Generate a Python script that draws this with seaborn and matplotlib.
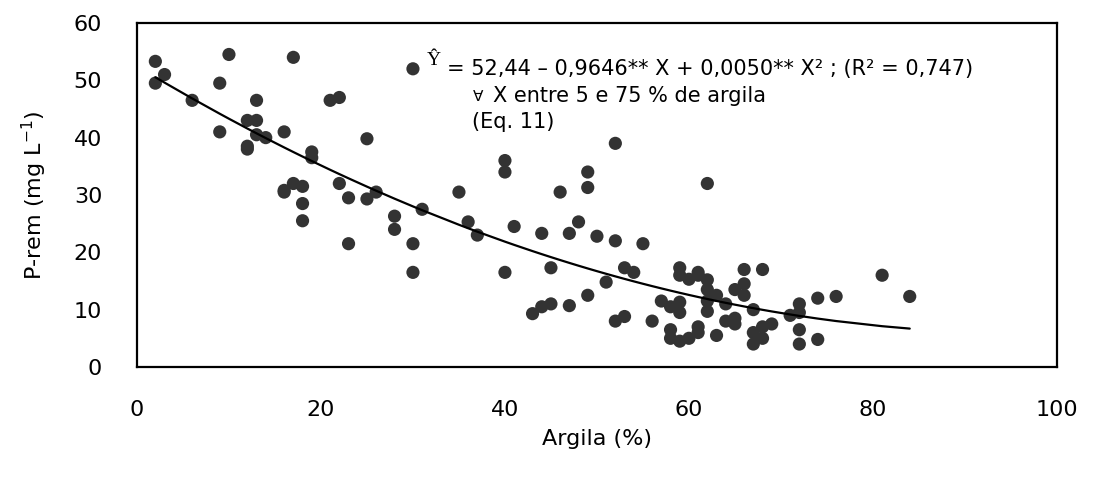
import matplotlib
matplotlib.use('Agg')
import matplotlib.pyplot as plt
import seaborn as sns
import pandas as pd
import numpy as np

sns.set_style('white')
plt.rcParams['font.family'] = ['DejaVu Sans']
plt.rcParams['text.color'] = 'black'
plt.rcParams['axes.labelcolor'] = 'black'
plt.rcParams['xtick.color'] = 'black'
plt.rcParams['ytick.color'] = 'black'

# Argila (%) and P-rem (mg/L)
argila = [2, 2, 3, 6, 9, 9, 10, 12, 12, 12, 13, 13, 13, 14, 16, 16, 16, 17, 17, 18,
          18, 18, 19, 19, 21, 22, 22, 23, 23, 25, 25, 26, 28, 28, 30, 30, 30, 31, 35, 36,
          37, 40, 40, 40, 41, 43, 44, 44, 45, 45, 46, 47, 47, 48, 49, 49, 49, 50, 51, 52,
          52, 52, 53, 53, 54, 55, 56, 57, 58, 58, 58, 59, 59, 59, 59, 59, 60, 60, 61, 61,
          61, 61, 62, 62, 62, 62, 62, 63, 63, 64, 64, 65, 65, 65, 66, 66, 66, 67, 67, 67,
          68, 68, 68, 69, 71, 72, 72, 72, 72, 74, 74, 76, 81, 84]
prem = [53.3, 49.5, 51.0, 46.5, 49.5, 41.0, 54.5, 43.0, 38.5, 38.0, 46.5, 43.0, 40.5, 40.0, 41.0, 30.8, 30.5, 54.0, 32.0, 31.5,
        28.5, 25.5, 37.5, 36.5, 46.5, 47.0, 32.0, 29.5, 21.5, 39.8, 29.3, 30.5, 26.3, 24.0, 52.0, 21.5, 16.5, 27.5, 30.5, 25.3,
        23.0, 36.0, 34.0, 16.5, 24.5, 9.3, 23.3, 10.5, 11.0, 17.3, 30.5, 23.3, 10.7, 25.3, 34.0, 31.3, 12.5, 22.8, 14.8, 39.0,
        22.0, 8.0, 17.3, 8.8, 16.5, 21.5, 8.0, 11.5, 10.5, 6.5, 5.0, 17.3, 16.0, 11.3, 9.5, 4.5, 15.3, 5.0, 16.5, 16.0,
        7.0, 6.0, 32.0, 15.2, 13.5, 11.5, 9.7, 12.5, 5.5, 11.0, 8.0, 13.5, 8.5, 7.5, 14.5, 12.5, 17.0, 10.0, 6.0, 4.0,
        17.0, 7.0, 5.0, 7.5, 9.0, 11.0, 9.5, 6.5, 4.0, 12.0, 4.8, 12.3, 16.0, 12.3]

# Eq. 11 coefficients: Y = 52.44 - 0.9646 X + 0.0050 X^2
coef = [0.0050, -0.9646, 52.44]

df = pd.DataFrame({'argila': argila, 'prem': prem})
fit = pd.DataFrame({'argila': np.unique(argila)})
fit['prem'] = np.polyval(coef, fit['argila'])

fig = plt.figure(figsize=(10.93, 4.88), dpi=100)
ax = fig.add_axes([0.1253, 0.248, 0.8417, 0.705])

sns.scatterplot(data=df, x='argila', y='prem', ax=ax, color='#333333',
                s=90, edgecolor='none', zorder=3)
sns.lineplot(data=fit, x='argila', y='prem', ax=ax, color='black',
             linewidth=1.6, zorder=4)

ax.set_xlim(0, 100)
ax.set_ylim(0, 60)
ax.set_xticks(range(0, 101, 20))
ax.set_yticks(range(0, 61, 10))
ax.tick_params(axis='both', direction='out', length=7, width=1.3,
               labelsize=16, color='black')
ax.tick_params(axis='x', pad=17)
ax.tick_params(axis='y', pad=18)
for sp in ax.spines.values():
    sp.set_visible(True)
    sp.set_color('black')
    sp.set_linewidth(1.6)

ax.set_xlabel('Argila (%)', fontsize=16, labelpad=6)
ax.set_ylabel('P-rem (mg L$^{-1}$)', fontsize=16, labelpad=18)

# equation annotation
ax.text(31.5, 52.7, '\u0176', fontsize=14, family=['Liberation Serif', 'DejaVu Serif'],
        va='baseline', ha='left')
ax.text(33.7, 50.9, '= 52,44 \u2013 0,9646** X + 0,0050** X\u00b2 ; (R\u00b2 = 0,747)',
        fontsize=15, va='baseline', ha='left')
ax.text(36.5, 46.3, '\u2200', fontsize=11, va='baseline', ha='left')
ax.text(38.7, 46.2, 'X entre 5 e 75 % de argila', fontsize=15, va='baseline', ha='left')
ax.text(36.4, 41.7, '(Eq. 11)', fontsize=15, va='baseline', ha='left')

fig.savefig('out.png', dpi=100)
